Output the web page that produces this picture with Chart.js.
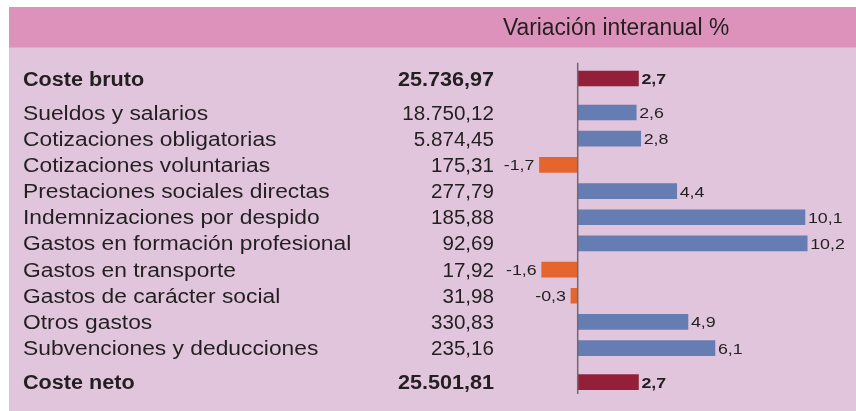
<!DOCTYPE html>
<html>
<head>
<meta charset="utf-8">
<script src="https://cdn.jsdelivr.net/npm/chart.js@4.4.1/dist/chart.umd.min.js"></script>
<style>
  html, body { margin:0; padding:0; background:#fff; }
  #wrap { width:856px; height:411px; position:relative; }
</style>
</head>
<body>
<div id="wrap"><canvas id="chart" width="856" height="411"></canvas></div>
<script>
/* Coste laboral por trabajador — importe y variación interanual */

// ── Data ──
var categorias = [
  'Coste bruto',
  'Sueldos y salarios',
  'Cotizaciones obligatorias',
  'Cotizaciones voluntarias',
  'Prestaciones sociales directas',
  'Indemnizaciones por despido',
  'Gastos en formación profesional',
  'Gastos en transporte',
  'Gastos de carácter social',
  'Otros gastos',
  'Subvenciones y deducciones',
  'Coste neto'
];
var costes = [25736.97, 18750.12, 5874.45, 175.31, 277.79, 185.88, 92.69, 17.92, 31.98, 330.83, 235.16, 25501.81];
var variacion = [2.7, 2.6, 2.8, -1.7, 4.4, 10.1, 10.2, -1.6, -0.3, 4.9, 6.1, 2.7];
var filasTotal = ['Coste bruto', 'Coste neto'];
var tituloVariacion = 'Variación interanual %';

// ── Look ──
var C_HEAD = '#dc92ba';
var C_BODY = '#e0c5dd';
var C_TOTAL = '#931f38';
var C_POS = '#667db4';
var C_NEG = '#e4652e';
var C_TEXT = '#231f20';
var FONT = '"Liberation Sans", Arial, Helvetica, sans-serif';

function esTotal(i){ return filasTotal.indexOf(categorias[i]) >= 0; }

// row position: extra gap after the first total and before the last
function rowPos(i){
  var n = categorias.length;
  return i + (i > 0 ? 0.3 : 0) + (i === n-1 ? 0.3 : 0);
}

function fmtImporte(v){
  var parts = v.toFixed(2).split('.');
  var ent = parts[0].replace(/\B(?=(\d{3})+(?!\d))/g, '.');
  return ent + ',' + parts[1];
}
function fmtVar(v){ return v.toFixed(1).replace('.', ','); }

// draws text with a horizontal stretch factor
function txt(ctx, s, x, y, align, sx){
  ctx.save();
  ctx.translate(x, y);
  ctx.scale(sx, 1);
  ctx.textAlign = align;
  ctx.textBaseline = 'alphabetic';
  ctx.fillText(s, 0, 0);
  ctx.restore();
}

var puntos = variacion.map(function(v, i){ return {x:v, y:rowPos(i)}; });
var colores = variacion.map(function(v, i){
  if(esTotal(i)) return C_TOTAL;
  return v < 0 ? C_NEG : C_POS;
});

var tablaPlugin = {
  id: 'tabla',
  beforeDraw: function(chart){
    var ctx = chart.ctx;
    ctx.save();
    ctx.fillStyle = '#fff';
    ctx.fillRect(0, 0, chart.width, chart.height);
    ctx.fillStyle = C_BODY;
    ctx.fillRect(9, 47, chart.width - 9, chart.height - 47);
    ctx.fillStyle = C_HEAD;
    ctx.fillRect(9, 7, chart.width - 9, 40.5);
    ctx.fillStyle = C_TEXT;
    ctx.font = '23px ' + FONT;
    txt(ctx, tituloVariacion, 503, 35, 'left', 0.99);
    ctx.restore();
  },
  afterDatasetsDraw: function(chart){
    var ctx = chart.ctx;
    var xs = chart.scales.x, ys = chart.scales.y;
    var x0 = xs.getPixelForValue(0);
    ctx.save();
    // zero line
    ctx.strokeStyle = '#6e6a6e';
    ctx.lineWidth = 1.5;
    ctx.beginPath();
    ctx.moveTo(x0, chart.chartArea.top);
    ctx.lineTo(x0, chart.chartArea.bottom);
    ctx.stroke();

    ctx.fillStyle = C_TEXT;
    categorias.forEach(function(cat, i){
      var yc = ys.getPixelForValue(rowPos(i));
      var bold = esTotal(i);
      var base = yc + 7;
      ctx.font = (bold ? 'bold ' : '') + '20px ' + FONT;
      txt(ctx, cat, 23, base, 'left', bold ? 1.08 : 1.14);
      txt(ctx, fmtImporte(costes[i]), 494, base, 'right', bold ? 1.08 : 1.03);
      // value label next to the bar
      var v = variacion[i];
      var xe = xs.getPixelForValue(v);
      ctx.font = (bold ? 'bold ' : '') + '15.5px ' + FONT;
      if(v >= 0) txt(ctx, fmtVar(v), xe + 3, yc + 5.5, 'left', 1.15);
      else txt(ctx, fmtVar(v), xe - 5, yc + 5.5, 'right', 1.15);
    });
    ctx.restore();
  }
};

new Chart(document.getElementById('chart'), {
  type: 'bar',
  data: {
    datasets: [{
      data: puntos,
      backgroundColor: colores,
      borderWidth: 0,
      barThickness: 15
    }]
  },
  options: {
    indexAxis: 'y',
    responsive: false,
    animation: false,
    devicePixelRatio: 1,
    layout: { padding: { left: 420.2, right: 8.3, top: 62.8, bottom: 17.1 } },
    plugins: { legend: { display: false }, tooltip: { enabled: false } },
    scales: {
      x: { type: 'linear', min: -7, max: 12, display: false },
      y: { type: 'linear', min: -0.6, max: 12.05, reverse: true, offset: false, display: false }
    }
  },
  plugins: [tablaPlugin]
});
</script>
</body>
</html>
